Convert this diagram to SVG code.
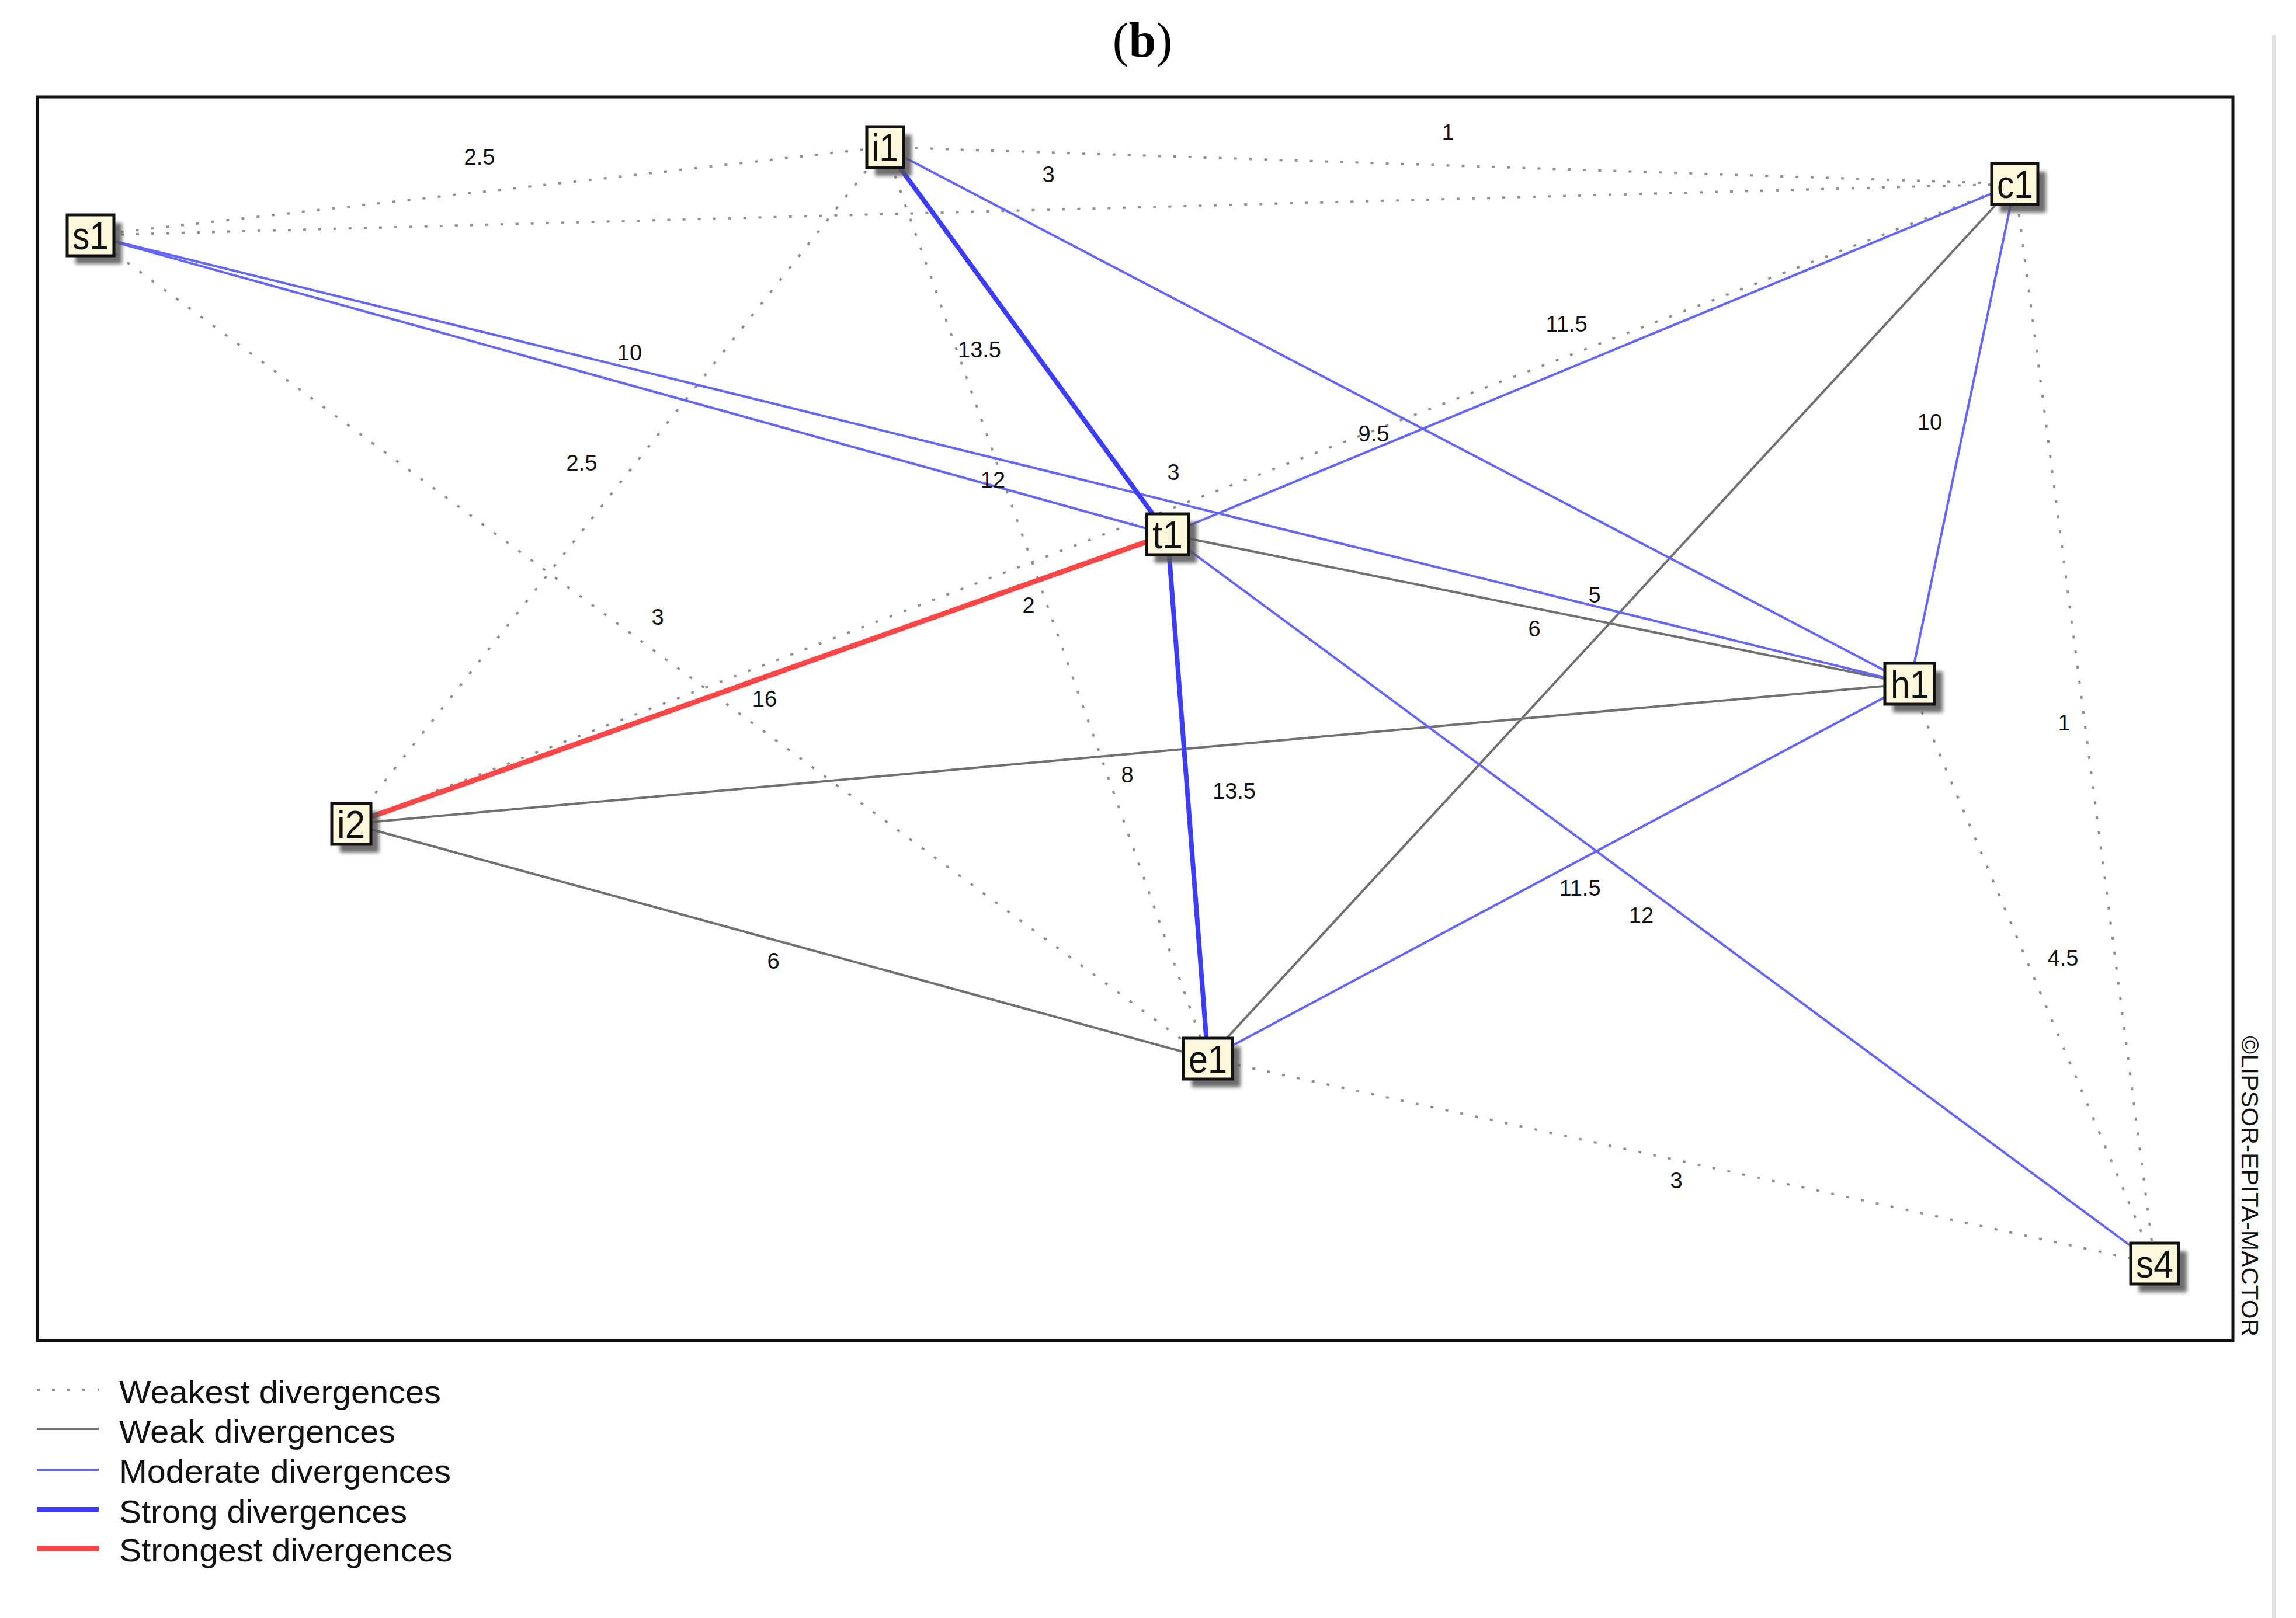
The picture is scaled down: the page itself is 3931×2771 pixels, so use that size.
<svg xmlns="http://www.w3.org/2000/svg" width="3931" height="2771" viewBox="0 0 3931 2771">
<style>
.e{fill:none;stroke-linecap:butt}
.weakest{stroke:#8f8f8f;stroke-width:4;stroke-dasharray:5 21}
.weak{stroke:#707070;stroke-width:4}
.moderate{stroke:#6464ff;stroke-width:4}
.strong{stroke:#3c3cff;stroke-width:8}
.strongest{stroke:#ff4545;stroke-width:9}
.lbl{font-family:"Liberation Sans",Arial,sans-serif;font-size:38px;fill:#111;text-anchor:middle}
.box{fill:#fdf8dc;stroke:#111;stroke-width:5}
.sh{fill:#555;opacity:0.85;filter:url(#blur)}
.nt{font-family:"Liberation Sans",Arial,sans-serif;font-size:66px;fill:#111;text-anchor:middle}
.leg{font-family:"Liberation Sans",Arial,sans-serif;font-size:56px;fill:#111}
</style>
<defs>
<filter id="blur" x="-20%" y="-20%" width="140%" height="140%"><feGaussianBlur stdDeviation="3"/></filter>
</defs>
<rect width="3931" height="2771" fill="#fff"/>
<text x="1956" y="97" text-anchor="middle" font-family="'Liberation Serif','Times New Roman',serif" font-size="84" fill="#000">(<tspan font-weight="bold">b</tspan>)</text>
<line x1="3893" y1="60" x2="3893" y2="2771" stroke="#e0e0e0" stroke-width="6"/>
<rect x="64" y="166" width="3759" height="2130" fill="none" stroke="#111" stroke-width="5"/>
<text transform="translate(3838,1774) rotate(90)" font-family="'Liberation Sans',Arial,sans-serif" font-size="41" fill="#111" textLength="515" lengthAdjust="spacingAndGlyphs">©LIPSOR-EPITA-MACTOR</text>
<g id="connectors">
<line class="e weakest" x1="155" y1="403" x2="1515" y2="252"/>
<line class="e weakest" x1="1515" y1="252" x2="3450" y2="315"/>
<line class="e weakest" x1="155" y1="403" x2="3450" y2="315"/>
<line class="e weakest" x1="1515" y1="252" x2="601" y2="1411"/>
<line class="e weakest" x1="1515" y1="252" x2="2068" y2="1813"/>
<line class="e weakest" x1="155" y1="403" x2="2068" y2="1813"/>
<line class="e weakest" x1="601" y1="1411" x2="3450" y2="315"/>
<line class="e weakest" x1="3450" y1="315" x2="3689" y2="2164"/>
<line class="e weakest" x1="3270" y1="1171" x2="3689" y2="2164"/>
<line class="e weakest" x1="2068" y1="1813" x2="3689" y2="2164"/>
<line class="e weak" x1="1999" y1="915" x2="3270" y2="1171"/>
<line class="e weak" x1="3450" y1="315" x2="2068" y2="1813"/>
<line class="e weak" x1="601" y1="1411" x2="3270" y2="1171"/>
<line class="e weak" x1="601" y1="1411" x2="2068" y2="1813"/>
<line class="e moderate" x1="155" y1="403" x2="1999" y2="915"/>
<line class="e moderate" x1="155" y1="403" x2="3270" y2="1171"/>
<line class="e moderate" x1="1515" y1="252" x2="3270" y2="1171"/>
<line class="e moderate" x1="1999" y1="915" x2="3450" y2="315"/>
<line class="e moderate" x1="3450" y1="315" x2="3270" y2="1171"/>
<line class="e moderate" x1="3270" y1="1171" x2="2068" y2="1813"/>
<line class="e moderate" x1="1999" y1="915" x2="3689" y2="2164"/>
<line class="e strong" x1="1515" y1="252" x2="1999" y2="915"/>
<line class="e strong" x1="1999" y1="915" x2="2068" y2="1813"/>
<line class="e strongest" x1="601" y1="1411" x2="1999" y2="915"/>
</g>
<g id="edge-labels">
<text class="lbl" x="821" y="282">2.5</text>
<text class="lbl" x="2479" y="240">1</text>
<text class="lbl" x="1795" y="312">3</text>
<text class="lbl" x="1078" y="617">10</text>
<text class="lbl" x="1677" y="612">13.5</text>
<text class="lbl" x="2682" y="568">11.5</text>
<text class="lbl" x="996" y="806">2.5</text>
<text class="lbl" x="2352" y="756">9.5</text>
<text class="lbl" x="2009" y="822">3</text>
<text class="lbl" x="1700" y="835">12</text>
<text class="lbl" x="3304" y="736">10</text>
<text class="lbl" x="1126" y="1070">3</text>
<text class="lbl" x="1761" y="1050">2</text>
<text class="lbl" x="2730" y="1032">5</text>
<text class="lbl" x="2627" y="1090">6</text>
<text class="lbl" x="1309" y="1210">16</text>
<text class="lbl" x="3534" y="1251">1</text>
<text class="lbl" x="1930" y="1340">8</text>
<text class="lbl" x="2113" y="1368">13.5</text>
<text class="lbl" x="2705" y="1534">11.5</text>
<text class="lbl" x="2810" y="1581">12</text>
<text class="lbl" x="1324" y="1659">6</text>
<text class="lbl" x="3532" y="1654">4.5</text>
<text class="lbl" x="2870" y="2035">3</text>
</g>
<g id="node-s1"><rect class="sh" x="129" y="382" width="80" height="70"/><rect class="box" x="115" y="368" width="80" height="70"/><text class="nt" x="155" y="427" textLength="62" lengthAdjust="spacingAndGlyphs">s1</text></g>
<g id="node-i1"><rect class="sh" x="1498" y="231" width="63" height="70"/><rect class="box" x="1484" y="217" width="63" height="70"/><text class="nt" x="1515" y="276" textLength="46" lengthAdjust="spacingAndGlyphs">i1</text></g>
<g id="node-c1"><rect class="sh" x="3424" y="294" width="79" height="70"/><rect class="box" x="3410" y="280" width="79" height="70"/><text class="nt" x="3450" y="339" textLength="62" lengthAdjust="spacingAndGlyphs">c1</text></g>
<g id="node-t1"><rect class="sh" x="1977" y="894" width="72" height="70"/><rect class="box" x="1963" y="880" width="72" height="70"/><text class="nt" x="1999" y="939" textLength="52" lengthAdjust="spacingAndGlyphs">t1</text></g>
<g id="node-i2"><rect class="sh" x="582" y="1390" width="67" height="70"/><rect class="box" x="568" y="1376" width="67" height="70"/><text class="nt" x="601" y="1435" textLength="48" lengthAdjust="spacingAndGlyphs">i2</text></g>
<g id="node-h1"><rect class="sh" x="3241" y="1150" width="85" height="70"/><rect class="box" x="3227" y="1136" width="85" height="70"/><text class="nt" x="3270" y="1195" textLength="66" lengthAdjust="spacingAndGlyphs">h1</text></g>
<g id="node-e1"><rect class="sh" x="2040" y="1792" width="84" height="70"/><rect class="box" x="2026" y="1778" width="84" height="70"/><text class="nt" x="2068" y="1837" textLength="66" lengthAdjust="spacingAndGlyphs">e1</text></g>
<g id="node-s4"><rect class="sh" x="3662" y="2143" width="82" height="70"/><rect class="box" x="3648" y="2129" width="82" height="70"/><text class="nt" x="3689" y="2188" textLength="64" lengthAdjust="spacingAndGlyphs">s4</text></g>
<g id="legend">
<line class="e weakest" x1="63" y1="2380" x2="169" y2="2380"/>
<line class="e weak" x1="63" y1="2447" x2="169" y2="2447"/>
<line class="e moderate" x1="63" y1="2517" x2="169" y2="2517"/>
<line class="e strong" x1="63" y1="2585" x2="169" y2="2585"/>
<line class="e strongest" x1="63" y1="2652" x2="169" y2="2652"/>
<text class="leg" x="204" y="2403" textLength="551" lengthAdjust="spacingAndGlyphs">Weakest divergences</text>
<text class="leg" x="204" y="2471" textLength="473" lengthAdjust="spacingAndGlyphs">Weak divergences</text>
<text class="leg" x="204" y="2539" textLength="568" lengthAdjust="spacingAndGlyphs">Moderate divergences</text>
<text class="leg" x="204" y="2608" textLength="493" lengthAdjust="spacingAndGlyphs">Strong divergences</text>
<text class="leg" x="204" y="2674" textLength="571" lengthAdjust="spacingAndGlyphs">Strongest divergences</text>
</g>
</svg>
